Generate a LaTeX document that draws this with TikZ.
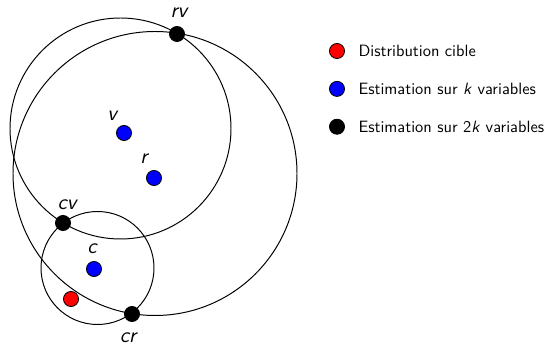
\documentclass[tikz,border=0pt]{standalone}
\usepackage{tikz}
\usetikzlibrary{positioning}

\tikzset{
  dot/.style={circle,draw=black,fill=#1,minimum size=9.2pt,inner sep=0pt,line width=0.5pt},
  lbl/.style={font=\sffamily\itshape\fontsize{13}{15}\selectfont,inner sep=0.5pt},
  legtext/.style={font=\sffamily,inner sep=0pt}
}

\begin{document}
\begin{tikzpicture}[x=0.61pt,y=-0.61pt,line width=0.6pt]
\useasboundingbox (0,0) rectangle (553,345);
% les trois cercles
\coordinate (o1) at (120.5,128.5);
\coordinate (o2) at (155,173.5);
\coordinate (o3) at (97.5,268);
\draw (o1) circle[radius=110.5];
\draw (o2) circle[radius=142];
\draw (o3) circle[radius=56.5];
% points
\node[dot=blue]  (v)  at (124,133) {};
\node[dot=blue]  (r)  at (154,178) {};
\node[dot=blue]  (c)  at (94,269)  {};
\node[dot=red]   (t)  at (71,299)  {};
\node[dot=black] (rv) at (177,34)  {};
\node[dot=black] (cv) at (63,223)  {};
\node[dot=black] (cr) at (132,314) {};
% etiquettes
\node[lbl] (lrv) [above=4.5pt of rv,xshift=1.2pt] {rv};
\node[lbl] (lv)  [above=1.7pt of v,xshift=-7.3pt] {v};
\node[lbl] (lr)  [above=3.3pt of r,xshift=-6.1pt] {r};
\node[lbl] (lcv) [above=2.7pt of cv,xshift=2.4pt] {cv};
\node[lbl] (lc)  [above=3.6pt of c,xshift=-1.2pt] {c};
\node[lbl] (lcr) [below=6pt of cr,xshift=-2.4pt]  {cr};
% legende
\node[dot=red]   (kred)  at (337,51) {};
\node[dot=blue]  (kblue) [below=13.4pt of kred]  {};
\node[dot=black] (kblk)  [below=13.4pt of kblue] {};
\node[legtext] (tred)  [right=8pt of kred]  {Distribution cible};
\node[legtext] (tblue) [right=8pt of kblue] {Estimation sur \textit{k} variables};
\node[legtext] (tblk)  [right=8pt of kblk]  {Estimation sur 2\textit{k} variables};
\end{tikzpicture}
\end{document}
